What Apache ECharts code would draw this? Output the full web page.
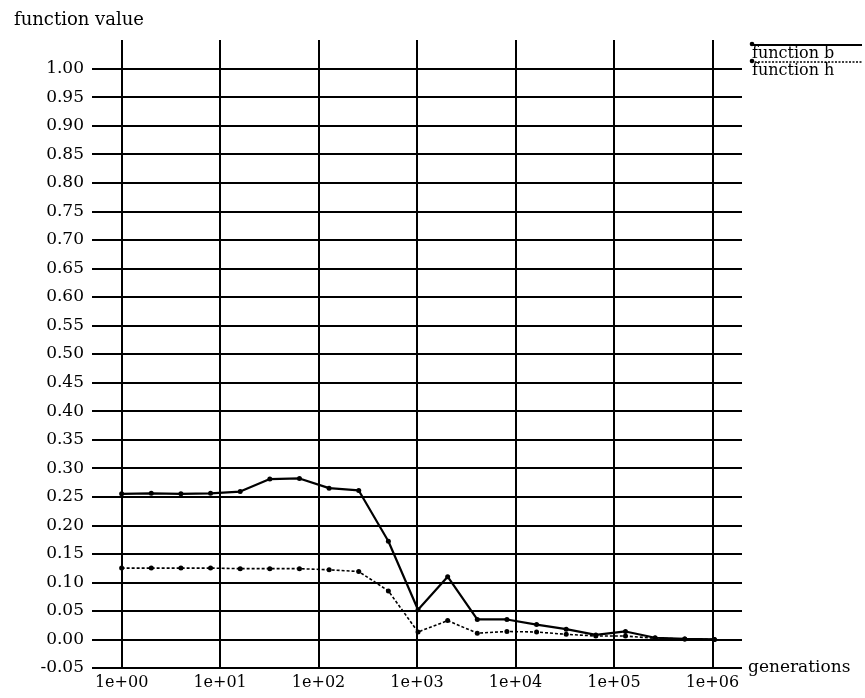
<!DOCTYPE html>
<html>
<head>
<meta charset="utf-8">
<script src="https://cdn.jsdelivr.net/npm/echarts@6/dist/echarts.min.js"></script>
<style>
  html, body { margin: 0; padding: 0; background: #fff; }
  #chart { width: 865px; height: 698px; }
</style>
</head>
<body>
<div id="chart"></div>
<script>
// Generations sampled at powers of two, 2^0 .. 2^20
const generations = [1, 2, 4, 8, 16, 32, 64, 128, 256, 512, 1024, 2048, 4096,
  8192, 16384, 32768, 65536, 131072, 262144, 524288, 1048576];

const seriesNames = ['function b', 'function h'];

const functionB = [0.255, 0.256, 0.255, 0.256, 0.259, 0.281, 0.282, 0.265, 0.261,
  0.172, 0.052, 0.110, 0.035, 0.035, 0.026, 0.018, 0.008, 0.014, 0.003, 0.001, 0.000];

const functionH = [0.125, 0.125, 0.125, 0.125, 0.124, 0.124, 0.124, 0.122, 0.119,
  0.085, 0.013, 0.033, 0.011, 0.014, 0.013, 0.009, 0.006, 0.006, 0.002, 0.001, 0.000];

const xAxisTitle = 'generations';
const yAxisTitle = 'function value';

const FONT = 'DejaVu Serif';
const INK = '#000';

const chart = echarts.init(document.getElementById('chart'), null, { renderer: 'canvas' });

function pairs(ys) {
  return generations.map((g, i) => [g, ys[i]]);
}

function expLabel(v) {
  const e = Math.round(Math.log10(v));
  const s = String(Math.abs(e)).padStart(2, '0');
  return '1e' + (e < 0 ? '-' : '+') + s;
}

// Legend: sample line drawn above each name, with a marker at its left end
const legendX0 = 751, legendX1 = 862;
const legendRows = [
  { y: 45, textY: 54, dash: null, width: 2 },
  { y: 62, textY: 71, dash: [2, 1.5], width: 1.5 }
];
const legendGraphics = [];
seriesNames.forEach((name, i) => {
  const r = legendRows[i];
  legendGraphics.push({
    type: 'line', silent: true,
    shape: { x1: legendX0, y1: r.y, x2: legendX1, y2: r.y },
    style: { stroke: INK, lineWidth: r.width, lineDash: r.dash }
  });
  legendGraphics.push({
    type: 'circle', silent: true,
    shape: { cx: legendX0 + 1, cy: r.y - 1, r: 2.3 },
    style: { fill: INK }
  });
  legendGraphics.push({
    type: 'text', silent: true,
    x: legendX0 + 1, y: r.textY,
    style: { text: name, font: '16px "' + FONT + '"', fill: INK, textVerticalAlign: 'middle' }
  });
});

chart.setOption({
  animation: false,
  backgroundColor: '#fff',
  textStyle: { fontFamily: FONT, color: INK },
  title: {
    text: yAxisTitle,
    left: 9, top: 6,
    textStyle: { fontFamily: FONT, fontSize: 18, fontWeight: 'normal', color: INK }
  },
  grid: { left: 92, right: 123, top: 40, bottom: 30, containLabel: false },
  xAxis: {
    type: 'log',
    logBase: 10,
    min: 0.5,
    max: 2000000,
    name: xAxisTitle,
    nameLocation: 'end',
    nameGap: 6,
    nameTextStyle: { fontFamily: FONT, fontSize: 17, color: INK, verticalAlign: 'middle' },
    axisLine: { show: false, onZero: false },
    axisTick: { show: false },
    axisLabel: {
      fontFamily: FONT, fontSize: 16, color: INK, margin: 7,
      showMinLabel: false, showMaxLabel: false,
      formatter: expLabel
    },
    splitLine: {
      show: true, showMinLine: false, showMaxLine: false,
      lineStyle: { color: INK, width: 2 }
    }
  },
  yAxis: {
    type: 'value',
    min: -0.05,
    max: 1.05,
    interval: 0.05,
    axisLine: { show: false },
    axisTick: { show: false },
    axisLabel: {
      fontFamily: FONT, fontSize: 17, color: INK, margin: 8,
      showMaxLabel: false,
      formatter: v => v.toFixed(2)
    },
    splitLine: {
      show: true, showMaxLine: false,
      lineStyle: { color: INK, width: 2 }
    }
  },
  series: [
    {
      name: seriesNames[0],
      type: 'line',
      data: pairs(functionB),
      symbol: 'circle',
      symbolSize: 5,
      itemStyle: { color: INK },
      lineStyle: { color: INK, width: 2.2 },
      z: 3
    },
    {
      name: seriesNames[1],
      type: 'line',
      data: pairs(functionH),
      symbol: 'circle',
      symbolSize: 5,
      itemStyle: { color: INK },
      lineStyle: { color: INK, width: 1.6, type: [3, 2] },
      z: 3
    }
  ],
  graphic: legendGraphics
});
</script>
</body>
</html>
